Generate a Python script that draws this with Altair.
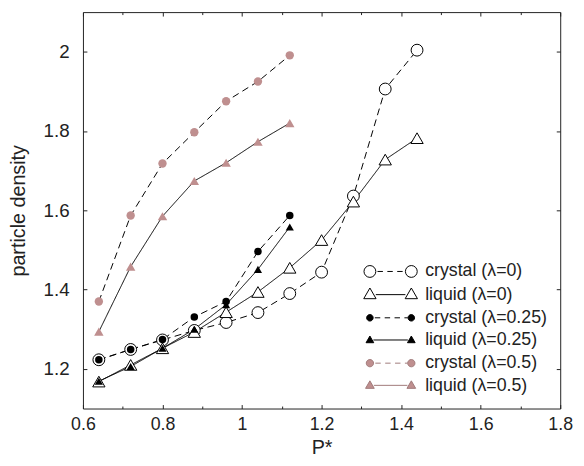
import altair as alt
import pandas as pd

# ---------------- data ----------------
P_all = [0.64, 0.72, 0.80, 0.88, 0.96, 1.04, 1.12, 1.20, 1.28, 1.36, 1.44]
P_short = [0.64, 0.72, 0.80, 0.88, 0.96, 1.04, 1.12]

crystal_l0 = [1.223, 1.249, 1.273, 1.297, 1.317, 1.342, 1.390, 1.444, 1.636, 1.906, 2.004]
liquid_l0 = [1.168, 1.210, 1.252, 1.293, 1.343, 1.394, 1.455, 1.525, 1.622, 1.728, 1.782]
crystal_l025 = [1.223, 1.249, 1.274, 1.331, 1.370, 1.496, 1.587]
liquid_l025 = [1.169, 1.206, 1.252, 1.300, 1.362, 1.451, 1.558]
crystal_l05 = [1.370, 1.587, 1.718, 1.797, 1.875, 1.925, 1.991]
liquid_l05 = [1.294, 1.458, 1.585, 1.674, 1.720, 1.773, 1.820]

series_names = ["crystal (λ=0)", "liquid (λ=0)", "crystal (λ=0.25)",
                "liquid (λ=0.25)", "crystal (λ=0.5)", "liquid (λ=0.5)"]
series_kind = ["crystal", "liquid", "crystal", "liquid", "crystal", "liquid"]
series_x = [P_all, P_all, P_short, P_short, P_short, P_short]
series_y = [crystal_l0, liquid_l0, crystal_l025, liquid_l025, crystal_l05, liquid_l05]

x_label_values = [0.6, 0.8, 1.0, 1.2, 1.4, 1.6, 1.8]
x_tick_values = [0.6, 0.7, 0.8, 0.9, 1.0, 1.1, 1.2, 1.3, 1.4, 1.5, 1.6, 1.7, 1.8]
y_values = [1.2, 1.4, 1.6, 1.8, 2.0]

# ---------------- styles ----------------
PINK = "#bf8f8f"
INK = "#222222"
FONT = "Liberation Sans"
m_shape = ["circle", "triangle-up", "circle", "triangle-up", "circle", "triangle-up"]
m_size = [144, 156, 58, 68, 72, 92]
m_fill = ["white", "white", "black", "black", PINK, PINK]
m_stroke = ["black", "black", "black", "black", PINK, PINK]
m_sw = [1, 1, 0, 0, 0, 0]

rows = []
for i, name in enumerate(series_names):
    for xv, yv in zip(series_x[i], series_y[i]):
        rows.append(dict(series=name, kind=series_kind[i], P=xv, rho=yv,
                         shp=m_shape[i], sz=m_size[i], fc=m_fill[i],
                         sc=m_stroke[i], sw=m_sw[i], idx=i))
df = pd.DataFrame(rows)

# ---------------- legend symbols (custom paths, unit = 6 px) ----------------
U = 6.0


def f(v):
    return f"{v / U:.4f}"


def circ(cx, r):
    return (f"M{f(cx - r)},0A{f(r)},{f(r)} 0 1,0 {f(cx + r)},0"
            f"A{f(r)},{f(r)} 0 1,0 {f(cx - r)},0Z")


def tri(cx, w):
    h = 0.866 * w
    return (f"M{f(cx)},{f(-2 * h / 3)}L{f(cx - w / 2)},{f(h / 3)}"
            f"L{f(cx + w / 2)},{f(h / 3)}Z")


def seg(a, b, y=0.0):
    return f"M{f(a)},{f(y)}L{f(b)},{f(y)}"


SPAN = 42.0


def dashed(a, b):
    out = ""
    d, g = 5.5, 4.5
    x = a + 1.5
    while x < b:
        out += seg(x, min(x + d, b))
        x += d + g
    return out


leg_paths = [
    dashed(6.2, SPAN - 6.2) + circ(0, 6.0) + circ(SPAN, 6.0),
    seg(6.0, SPAN - 6.0, -0.5) + tri(0, 12.5) + tri(SPAN, 12.5),
    dashed(3.5, SPAN - 3.5) + circ(0, 3.3) + circ(SPAN, 3.3),
    seg(3.5, SPAN - 3.5, -0.5) + tri(0, 7.8) + tri(SPAN, 7.8),
    dashed(4.0, SPAN - 4.0) + circ(0, 3.7) + circ(SPAN, 3.7),
    seg(4.0, SPAN - 4.0, -0.5) + tri(0, 8.8) + tri(SPAN, 8.8),
]
leg_fill = ["white", "white", "black", "black", PINK, PINK]
leg_stroke = ["black", "black", "black", "black", "#a07a7a", "#a07a7a"]

# ---------------- chart ----------------
W, H = 484, 402

xs = alt.Scale(domain=[0.6, 1.8], nice=False, zero=False)
ys = alt.Scale(domain=[1.1, 2.1], nice=False, zero=False)

major_test = "abs(round(datum.value * 10)) % 2 == 0"

ax_x_main = alt.Axis(orient="bottom", values=x_label_values, format="~g",
                     ticks=False, tickSize=0, domain=False, grid=False,
                     labelFont=FONT, labelFontSize=18, labelColor=INK,
                     labelPadding=7, labelFlush=False, labelOverlap=False,
                     title="P*", titleFont=FONT, titleFontSize=20,
                     titleFontWeight="normal", titleColor=INK,
                     titleX=W / 2, titleY=46, titleBaseline="alphabetic",
                     titleAlign="center")
ax_y_main = alt.Axis(orient="left", values=y_values, format="~g",
                     ticks=False, tickSize=0, domain=False, grid=False,
                     labelFont=FONT, labelFontSize=19, labelColor=INK,
                     labelPadding=14, labelFlush=False, labelOverlap=False,
                     title="particle density", titleFont=FONT,
                     titleFontSize=20, titleFontWeight="normal",
                     titleColor=INK, titleX=-65, titleY=H / 2,
                     titleAngle=270, titleBaseline="middle",
                     titleAlign="center")

tick_size_x = {"condition": {"test": major_test, "value": 4}, "value": 2.5}

ax_x_bottom_in = alt.Axis(orient="top", offset=-H, values=x_tick_values,
                          labels=False, domain=False, grid=False, ticks=True,
                          tickSize=tick_size_x, tickColor=INK, title=None)
ax_x_top_in = alt.Axis(orient="bottom", offset=-H, values=x_tick_values,
                       labels=False, domain=False, grid=False, ticks=True,
                       tickSize=tick_size_x, tickColor=INK, title=None)
ax_y_left_in = alt.Axis(orient="right", offset=-W, values=y_values,
                        labels=False, domain=False, grid=False, ticks=True,
                        tickSize=4, tickColor=INK, title=None)
ax_y_right_in = alt.Axis(orient="left", offset=-W, values=y_values,
                         labels=False, domain=False, grid=False, ticks=True,
                         tickSize=4, tickColor=INK, title=None)

lines = alt.Chart(df).mark_line(color="black", strokeWidth=1).encode(
    x=alt.X("P:Q", scale=xs, axis=ax_x_main),
    y=alt.Y("rho:Q", scale=ys, axis=ax_y_main),
    detail="series:N",
    strokeDash=alt.StrokeDash("kind:N", scale=alt.Scale(
        domain=["crystal", "liquid"], range=[[7, 4.5], [1, 0]]), legend=None),
)

points = alt.Chart(df).mark_point(opacity=1, filled=False).encode(
    x=alt.X("P:Q", scale=xs, axis=ax_x_bottom_in),
    y=alt.Y("rho:Q", scale=ys, axis=ax_y_left_in),
    shape=alt.Shape("shp:N", scale=None),
    size=alt.Size("sz:Q", scale=None),
    fill=alt.Fill("fc:N", scale=None),
    stroke=alt.Stroke("sc:N", scale=None),
    strokeWidth=alt.StrokeWidth("sw:Q", scale=None),
    order=alt.Order("idx:Q"),
)

leg = alt.Legend(orient="none", legendX=282, legendY=254, title=None,
                 labelFont=FONT, labelFontSize=18, labelColor=INK,
                 symbolSize=144, symbolStrokeWidth=1, symbolOpacity=1,
                 rowPadding=5, labelOffset=47, padding=0, labelLimit=300)

legend_layer = alt.Chart(df).mark_point(opacity=1, filled=False).encode(
    x=alt.X("P:Q", scale=xs, axis=ax_x_top_in),
    y=alt.Y("rho:Q", scale=ys, axis=ax_y_right_in),
    shape=alt.Shape("series:N", scale=alt.Scale(domain=series_names, range=leg_paths), legend=leg),
    fill=alt.Fill("series:N", scale=alt.Scale(domain=series_names, range=leg_fill), legend=leg),
    stroke=alt.Stroke("series:N", scale=alt.Scale(domain=series_names, range=leg_stroke), legend=leg),
).transform_filter("false")

chart = alt.layer(lines, points, legend_layer).resolve_axis(
    x="independent", y="independent"
).properties(
    width=W, height=H,
    padding={"left": 76, "top": 1, "right": 16, "bottom": 47},
    autosize=alt.AutoSizeParams(type="none"),
    background="white",
).configure_view(stroke=INK, strokeWidth=1)

chart.save("out.html", embed_options={"renderer": "svg", "actions": False})
